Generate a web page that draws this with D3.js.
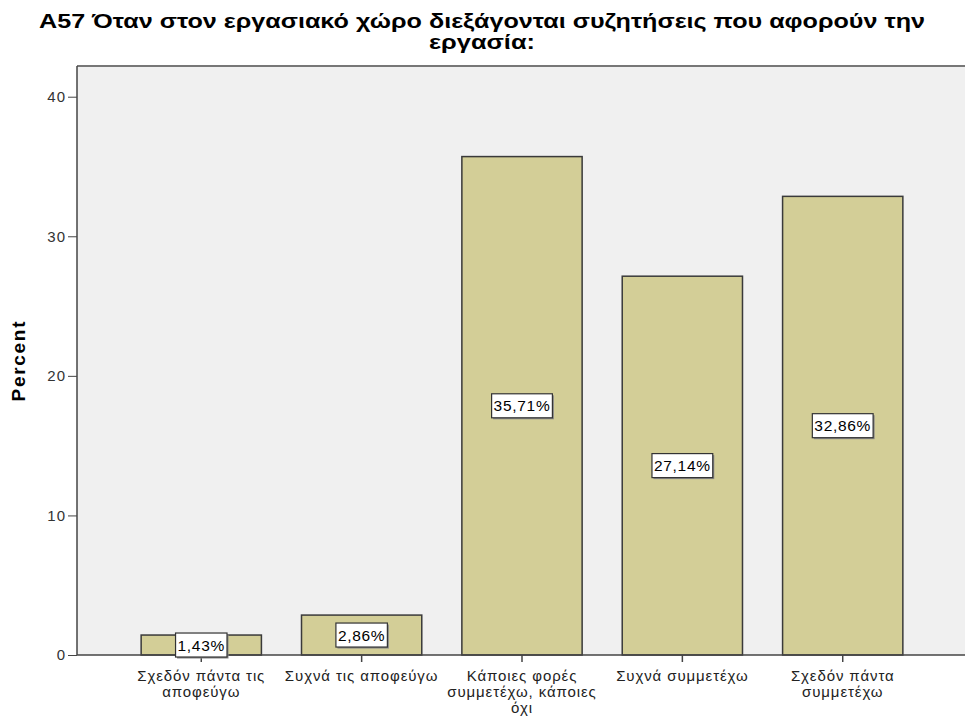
<!DOCTYPE html>
<html>
<head>
<meta charset="utf-8">
<script src="https://cdn.jsdelivr.net/npm/d3@7"></script>
<style>
  html, body { margin: 0; padding: 0; background: #fff; }
  svg { display: block; font-family: "Liberation Sans", Arial, sans-serif; }
</style>
</head>
<body>
<svg id="chart" width="965" height="720"></svg>
<script>
// Response categories (each label split into display lines)
const categories = [
  ["Σχεδόν πάντα τις", "αποφεύγω"],
  ["Συχνά τις αποφεύγω"],
  ["Κάποιες φορές", "συμμετέχω, κάποιες", "όχι"],
  ["Συχνά συμμετέχω"],
  ["Σχεδόν πάντα", "συμμετέχω"]
];
const percents = [1.43, 2.86, 35.71, 27.14, 32.86];
const valueLabels = ["1,43%", "2,86%", "35,71%", "27,14%", "32,86%"];
const yTicks = [0, 10, 20, 30, 40];
const titleLines = ["A57 Όταν στον εργασιακό χώρο διεξάγονται συζητήσεις που αφορούν την", "εργασία:"];
const yTitle = "Percent";

const svg = d3.select("#chart");
const plot = { left: 77, right: 967, top: 66, bottom: 655 };

const x = d3.scaleBand()
  .domain(d3.range(categories.length))
  .range([plot.left, plot.right])
  .paddingInner(0.25)
  .paddingOuter(0.4);

const y = d3.scaleLinear()
  .domain([0, 42.2])
  .range([plot.bottom, plot.top]);

// Title
const titleWidths = [886, 106];
svg.append("g").selectAll("text")
  .data(titleLines)
  .join("text")
  .attr("x", 482)
  .attr("y", (d, i) => 28 + i * 21)
  .attr("text-anchor", "middle")
  .attr("font-size", 20)
  .attr("font-weight", "bold")
  .attr("fill", "#000")
  .attr("textLength", (d, i) => titleWidths[i])
  .attr("lengthAdjust", "spacingAndGlyphs")
  .text(d => d);

// Plot background
svg.append("rect")
  .attr("x", plot.left).attr("y", plot.top)
  .attr("width", plot.right - plot.left)
  .attr("height", plot.bottom - plot.top)
  .attr("fill", "#f0f0f0");

// Top frame line
svg.append("line")
  .attr("x1", plot.left).attr("x2", plot.right)
  .attr("y1", plot.top).attr("y2", plot.top)
  .attr("stroke", "#777").attr("stroke-width", 2);

// Bars
svg.append("g").selectAll("rect")
  .data(percents)
  .join("rect")
  .attr("x", (d, i) => x(i))
  .attr("y", d => y(d))
  .attr("width", x.bandwidth())
  .attr("height", d => y(0) - y(d))
  .attr("fill", "#d3ce97")
  .attr("stroke", "#3a3a3a")
  .attr("stroke-width", 1.5);

// Y axis
const yAxis = svg.append("g")
  .attr("transform", `translate(${plot.left},0)`)
  .call(d3.axisLeft(y).tickValues(yTicks).tickSize(9).tickPadding(2).tickFormat(d3.format("d")));
yAxis.select(".domain").remove();
yAxis.selectAll(".tick line").attr("stroke", "#444").attr("stroke-width", 1);
yAxis.selectAll(".tick text")
  .attr("font-size", 15)
  .attr("letter-spacing", 1)
  .attr("fill", "#333")
  .attr("font-family", "Liberation Sans, Arial, sans-serif");
svg.append("line")
  .attr("x1", plot.left).attr("x2", plot.left)
  .attr("y1", plot.top).attr("y2", plot.bottom)
  .attr("stroke", "#444").attr("stroke-width", 1.5);

// X axis
const xAxis = svg.append("g")
  .attr("transform", `translate(0,${plot.bottom})`)
  .call(d3.axisBottom(x).tickSize(7).tickFormat(""));
xAxis.select(".domain").remove();
xAxis.selectAll(".tick line").attr("stroke", "#444").attr("stroke-width", 1.5);
svg.append("line")
  .attr("x1", plot.left).attr("x2", plot.right)
  .attr("y1", plot.bottom).attr("y2", plot.bottom)
  .attr("stroke", "#444").attr("stroke-width", 1.5);

// Category labels
const catG = svg.append("g");
categories.forEach((lines, i) => {
  catG.append("text")
    .attr("x", x(i) + x.bandwidth() / 2)
    .attr("y", 681)
    .attr("text-anchor", "middle")
    .attr("font-size", 15)
    .attr("letter-spacing", 0.9)
    .attr("fill", "#222")
    .selectAll("tspan")
    .data(lines)
    .join("tspan")
    .attr("x", x(i) + x.bandwidth() / 2)
    .attr("dy", (d, j) => j === 0 ? 0 : 16)
    .text(d => d);
});

// Y axis title
svg.append("text")
  .attr("transform", `translate(25,${(plot.top + plot.bottom) / 2 + 1}) rotate(-90)`)
  .attr("text-anchor", "middle")
  .attr("font-size", 19)
  .attr("font-weight", "bold")
  .attr("fill", "#000")
  .attr("textLength", 80)
  .attr("lengthAdjust", "spacing")
  .text(yTitle);

// Value labels in boxes at the middle of each bar
const lblG = svg.append("g");
percents.forEach((v, i) => {
  const cx = x(i) + x.bandwidth() / 2;
  const cy = y(v / 2);
  const g = lblG.append("g");
  const t = g.append("text")
    .attr("x", cx)
    .attr("y", cy + 5.5)
    .attr("text-anchor", "middle")
    .attr("font-size", 15.5)
    .attr("letter-spacing", 0.7)
    .attr("fill", "#000")
    .text(valueLabels[i]);
  const bb = t.node().getBBox();
  const w = bb.width + 4, h = 24;
  g.insert("rect", "text")
    .attr("x", cx - w / 2 + 1.5).attr("y", cy - h / 2 + 1.5)
    .attr("width", w).attr("height", h)
    .attr("fill", "#888");
  g.insert("rect", "text")
    .attr("x", cx - w / 2).attr("y", cy - h / 2)
    .attr("width", w).attr("height", h)
    .attr("fill", "#fff")
    .attr("stroke", "#333")
    .attr("stroke-width", 1.2);
});
</script>
</body>
</html>
